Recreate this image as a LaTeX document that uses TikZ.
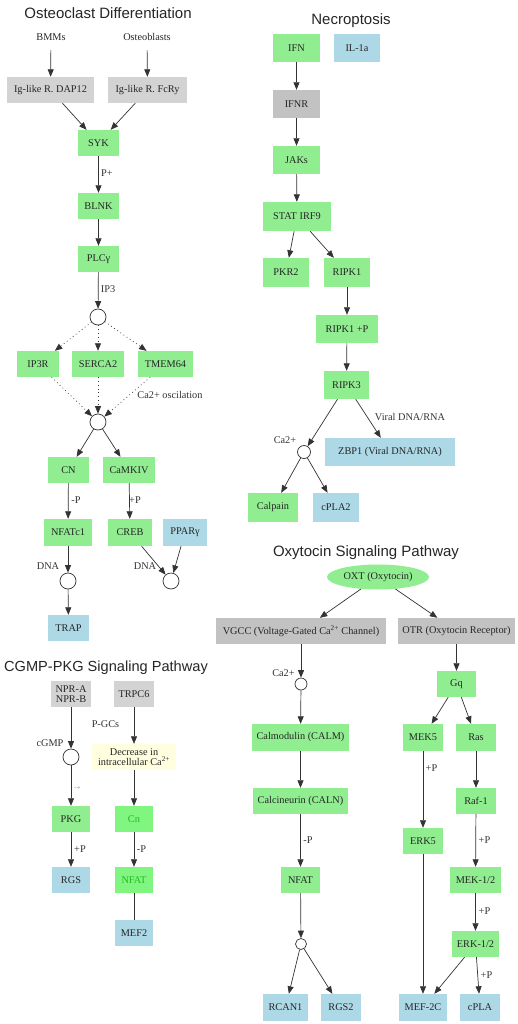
\documentclass[tikz,border=0pt]{standalone}
\usepackage{fontspec}
\setmainfont{Liberation Serif}
\newfontfamily\titlefont{Liberation Sans}
\usetikzlibrary{arrows.meta,shapes.geometric}
\definecolor{lgreen}{HTML}{90EE90}
\definecolor{bgreen}{HTML}{80F580}
\definecolor{gtext}{HTML}{22BB22}
\definecolor{lblue}{HTML}{ADD8E6}
\definecolor{lgray}{HTML}{D3D3D3}
\definecolor{mgray}{HTML}{C2C2C2}
\definecolor{lyellow}{HTML}{FFFFE0}
\definecolor{edgec}{HTML}{333333}
\begin{document}
\begin{tikzpicture}[x=1pt,y=-1pt,
  every node/.style={font=\fontsize{10.3}{11}\selectfont, text=black!85},
  box/.style={rectangle, inner sep=0pt, minimum height=26pt, align=center},
  gb/.style={box, fill=lgreen},
  bb/.style={box, fill=lblue},
  lg/.style={box, fill=lgray},
  mg/.style={box, fill=mgray},
  circ/.style={circle, draw=edgec, line width=0.7pt, fill=white, minimum size=16pt, inner sep=0pt},
  scirc/.style={circ, minimum size=12pt},
  ed/.style={draw=edgec, line width=0.7pt, -{Triangle[length=7.5pt,width=6pt]}},
  dt/.style={ed, dash pattern=on 0.8pt off 3pt},
  lab/.style={inner sep=0pt, text=black!80},
  ttl/.style={font=\titlefont\fontsize{15}{17}\selectfont, text=black!85, inner sep=0pt},
  plain/.style={inner sep=0pt, minimum height=26pt}
]
\fill[white] (0,0) rectangle (518,1024);
\useasboundingbox (0,0) rectangle (518,1024);

% ================= Osteoclast Differentiation =================
\node[ttl] (t1) at (108,13) {Osteoclast Differentiation};
\node[plain] (bmm) at (51,37) {BMMs};
\node[plain] (obl) at (147,37) {Osteoblasts};
\node[lg, minimum width=87pt] (dap) at (50.5,90) {Ig-like R. DAP12};
\node[lg, minimum width=79pt] (fcr) at (147.5,90) {Ig-like R. FcRy};
\node[gb, minimum width=41pt] (syk) at (98.5,143) {SYK};
\node[gb, minimum width=41pt] (blnk) at (98.5,206) {BLNK};
\node[gb, minimum width=41pt] (plc) at (98.5,259) {PLCγ};
\node[circ] (c1) at (98,317) {};
\node[gb, minimum width=42pt] (ip3r) at (38,364) {IP3R};
\node[gb, minimum width=52pt] (serca) at (98,364) {SERCA2};
\node[gb, minimum width=55pt] (tmem) at (165.5,364) {TMEM64};
\node[circ] (c2) at (98,422) {};
\node[gb, minimum width=41pt] (cn) at (68.5,470) {CN};
\node[gb, minimum width=52pt] (camk) at (129,470) {CaMKIV};
\node[gb, minimum width=48pt, minimum height=27pt] (nfatc) at (68,532.5) {NFATc1};
\node[gb, minimum width=44pt, minimum height=27pt] (creb) at (130,532.5) {CREB};
\node[bb, minimum width=44pt, minimum height=27pt] (ppar) at (185,532.5) {PPARγ};
\node[circ] (c3) at (68,581) {};
\node[circ] (c4) at (171,581) {};
\node[bb, minimum width=41pt] (trap) at (68.5,628) {TRAP};

\draw[ed] (bmm) -- (dap);
\draw[ed] (obl) -- (fcr);
\draw[ed] (dap) -- (syk);
\draw[ed] (fcr) -- (syk);
\draw[ed] (syk) -- (blnk);
\draw[ed] (blnk) -- (plc);
\draw[ed] (plc) -- (c1);
\draw[dt] (c1) -- (ip3r);
\draw[dt] (c1) -- (serca);
\draw[dt] (c1) -- (tmem);
\draw[dt] (ip3r) -- (c2);
\draw[dt] (serca) -- (c2);
\draw[dt] (tmem) -- (c2);
\draw[ed] (c2) -- (cn);
\draw[ed] (c2) -- (camk);
\draw[ed] (cn) -- (nfatc);
\draw[ed] (camk) -- (creb);
\draw[ed] (nfatc) -- (c3);
\draw[ed] (c3) -- (trap);
\draw[ed] (creb) -- (c4);
\draw[ed] (ppar) -- (c4);

\node[lab] (l1) at (107,173) {P+};
\node[lab] (l2) at (108,289) {IP3};
\node[lab] (l3) at (170,395) {Ca2+ oscilation};
\node[lab] (l4) at (76,500) {-P};
\node[lab] (l5) at (135,500) {+P};
\node[lab] (l6) at (48,566) {DNA};
\node[lab] (l7) at (145,566) {DNA};

% ================= CGMP-PKG Signaling Pathway =================
\node[ttl, font=\titlefont\fontsize{14.6}{17}\selectfont] (t2) at (106,668) {CGMP-PKG Signaling Pathway};
\node[lg, minimum width=40pt, font=\fontsize{10.3}{10}\selectfont] (npr) at (71,694) {NPR-A\\NPR-B};
\node[lg, minimum width=40pt] (trpc) at (134,694) {TRPC6};
\node[circ] (c8) at (71,757) {};
\node[box, fill=lyellow, minimum width=84pt, font=\fontsize{10.3}{10.5}\selectfont] (decr) at (134,757) {Decrease in\\intracellular Ca\textsuperscript{2+}};
\node[gb, minimum width=38pt] (pkg) at (71,819) {PKG};
\node[box, fill=bgreen, text=gtext, minimum width=38pt] (cn2) at (134,819) {Cn};
\node[bb, minimum width=38pt] (rgs) at (71,880) {RGS};
\node[box, fill=bgreen, text=gtext, minimum width=38pt] (nfat3) at (134,880) {NFAT};
\node[bb, minimum width=38pt] (mef2) at (134,933) {MEF2};

\draw[ed] (npr) -- (c8);
\draw[ed] (c8) -- (pkg);
\draw[ed] (trpc) -- (decr);
\draw[ed] (decr) -- (cn2);
\draw[ed] (pkg) -- (rgs);
\draw[ed] (cn2) -- (nfat3);
\draw[draw=edgec, line width=0.7pt] (nfat3) -- (mef2);

\node[lab] (l8) at (105.5,724) {P-GCs};
\node[lab] (l9) at (50,743) {cGMP};
\node[lab, text=black!50, font=\fontsize{6}{7}\selectfont] (l10) at (77,788) {$\rightarrow$};
\node[lab] (l11) at (80,849) {+P};
\node[lab] (l12) at (141.5,849) {-P};

% ================= Necroptosis =================
\node[ttl] (t3) at (351,21) {Necroptosis};
\node[gb, minimum width=47pt, minimum height=28pt] (ifn) at (296.5,48) {IFN};
\node[bb, minimum width=46pt, minimum height=28pt] (il1) at (357,48) {IL-1a};
\node[mg, minimum width=47pt, minimum height=28pt] (ifnr) at (296.5,104) {IFNR};
\node[gb, minimum width=47pt, minimum height=28pt] (jaks) at (296.5,160) {JAKs};
\node[gb, minimum width=68pt, minimum height=29pt] (stat) at (297,216.5) {STAT IRF9};
\node[gb, minimum width=46pt, minimum height=29pt] (pkr2) at (286,272.5) {PKR2};
\node[gb, minimum width=46pt, minimum height=29pt] (ripk1) at (347,272.5) {RIPK1};
\node[gb, minimum width=62pt, minimum height=28pt] (ripk1p) at (347,329) {RIPK1 +P};
\node[gb, minimum width=45pt, minimum height=28pt] (ripk3) at (346.5,385) {RIPK3};
\node[circ, minimum size=13pt] (c5) at (304,452) {};
\node[bb, minimum width=130pt, minimum height=28pt] (zbp1) at (390,452) {ZBP1 (Viral DNA/RNA)};
\node[gb, minimum width=50pt, minimum height=29pt] (calp) at (273,507.5) {Calpain};
\node[bb, minimum width=46pt, minimum height=29pt] (cpla2) at (336,507.5) {cPLA2};

\draw[ed] (ifn) -- (ifnr);
\draw[ed] (ifnr) -- (jaks);
\draw[ed] (jaks) -- (stat);
\draw[ed] (stat) -- (pkr2);
\draw[ed] (stat) -- (ripk1);
\draw[ed] (ripk1) -- (ripk1p);
\draw[ed] (ripk1p) -- (ripk3);
\draw[ed] (ripk3) -- (c5);
\draw[ed] (ripk3) -- (zbp1);
\draw[ed] (c5) -- (calp);
\draw[ed] (c5) -- (cpla2);

\node[lab] (l13) at (285,440) {Ca2+};
\node[lab] (l14) at (410,417) {Viral DNA/RNA};

% ================= Oxytocin Signaling Pathway =================
\node[ttl] (t4) at (366,553) {Oxytocin Signaling Pathway};
\node[ellipse, fill=lgreen, inner sep=0pt, minimum width=102pt, minimum height=25pt] (oxt) at (378,577) {OXT (Oxytocin)};
\node[mg, minimum width=170pt] (vgcc) at (301,631) {VGCC (Voltage-Gated Ca\textsuperscript{2+} Channel)};
\node[mg, minimum width=117pt] (otr) at (456.5,631) {OTR (Oxytocin Receptor)};
\node[scirc] (c6) at (301,684) {};
\node[gb, minimum width=97pt, minimum height=27pt] (calm) at (300.5,737.5) {Calmodulin (CALM)};
\node[gb, minimum width=39pt] (gq) at (456.5,684) {Gq};
\node[gb, minimum width=40pt, minimum height=27pt] (mek5) at (423,737.5) {MEK5};
\node[gb, minimum width=40pt, minimum height=27pt] (ras) at (476,737.5) {Ras};
\node[gb, minimum width=95pt] (caln) at (300.5,801) {Calcineurin (CALN)};
\node[gb, minimum width=40pt] (raf) at (476,801) {Raf-1};
\node[gb, minimum width=40pt] (erk5) at (423,841) {ERK5};
\node[gb, minimum width=39pt] (nfat2) at (300.5,880) {NFAT};
\node[gb, minimum width=51pt] (mek12) at (475.5,880) {MEK-1/2};
\node[scirc, minimum size=11pt] (c7) at (301,944) {};
\node[gb, minimum width=47pt] (erk12) at (475.5,944) {ERK-1/2};
\node[bb, minimum width=45pt, minimum height=27pt] (rcan) at (285.5,1007.5) {RCAN1};
\node[bb, minimum width=40pt, minimum height=27pt] (rgs2) at (341,1007.5) {RGS2};
\node[bb, minimum width=48pt, minimum height=27pt] (mef2c) at (423,1007.5) {MEF-2C};
\node[bb, minimum width=40pt, minimum height=27pt] (cpla) at (480,1007.5) {cPLA};

\draw[ed] (oxt) -- (vgcc);
\draw[ed] (oxt) -- (otr);
\draw[ed] (vgcc) -- (c6);
\draw[ed] (c6) -- (calm);
\draw[ed] (calm) -- (caln);
\draw[ed] (caln) -- (nfat2);
\draw[ed] (nfat2) -- (c7);
\draw[ed] (c7) -- (rcan);
\draw[ed] (c7) -- (rgs2);
\draw[ed] (otr) -- (gq);
\draw[ed] (gq) -- (mek5);
\draw[ed] (gq) -- (ras);
\draw[ed] (mek5) -- (erk5);
\draw[ed] (ras) -- (raf);
\draw[ed] (raf) -- (mek12);
\draw[ed] (mek12) -- (erk12);
\draw[ed] (erk5) -- (mef2c);
\draw[ed] (erk12) -- (mef2c);
\draw[ed] (erk12) -- (cpla);

\node[lab] (l15) at (283.5,673) {Ca2+};
\node[lab] (l16) at (431.5,768) {+P};
\node[lab] (l17) at (308,840) {-P};
\node[lab] (l18) at (484.5,840) {+P};
\node[lab] (l19) at (484.5,911) {+P};
\node[lab] (l20) at (486.5,975) {+P};
\end{tikzpicture}
\end{document}
